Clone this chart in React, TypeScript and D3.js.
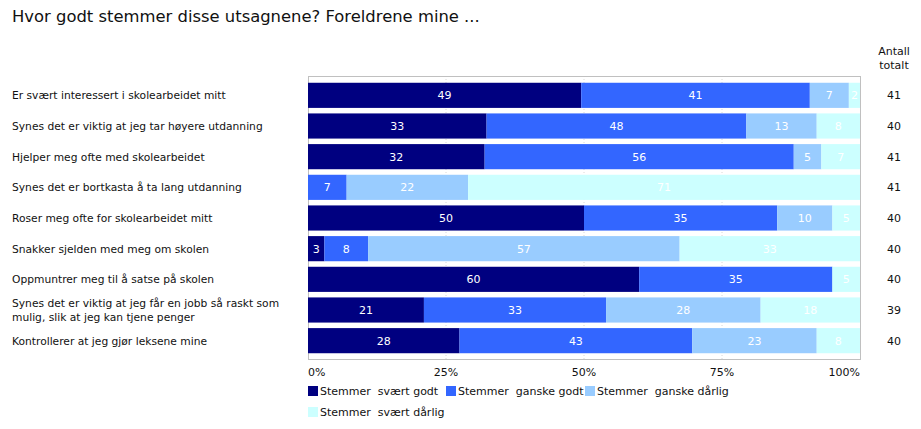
import React from "react";
import * as d3 from "d3";

const categories = [
  "Er svært interessert i skolearbeidet mitt",
  "Synes det er viktig at jeg tar høyere utdanning",
  "Hjelper meg ofte med skolearbeidet",
  "Synes det er bortkasta å ta lang utdanning",
  "Roser meg ofte for skolearbeidet mitt",
  "Snakker sjelden med meg om skolen",
  "Oppmuntrer meg til å satse på skolen",
  "Synes det er viktig at jeg får en jobb så raskt som|mulig, slik at jeg kan tjene penger",
  "Kontrollerer at jeg gjør leksene mine",
];
const svaertGodt = [49, 33, 32, 0, 50, 3, 60, 21, 28];
const ganskeGodt = [41, 48, 56, 7, 35, 8, 35, 33, 43];
const ganskeDarlig = [7, 13, 5, 22, 10, 57, 0, 28, 23];
const svaertDarlig = [2, 8, 7, 71, 5, 33, 5, 18, 8];
const totals = [41, 40, 41, 41, 40, 40, 40, 39, 40];
const seriesNames = [
  "Stemmer  svært godt",
  "Stemmer  ganske godt",
  "Stemmer  ganske dårlig",
  "Stemmer  svært dårlig",
];
const colors = ["#000080", "#3366ff", "#99ccff", "#ccffff"];
const ticks = [0, 25, 50, 75, 100];
const tickLabels = ["0%", "25%", "50%", "75%", "100%"];

const FONT = "DejaVu Sans, Verdana, sans-serif";

export default function App() {
  const W = 921, H = 429;
  const left = 308, right = 860, top = 76, bottom = 359;
  const x = d3.scaleLinear().domain([0, 100]).range([left, right]);
  const y = d3.scaleBand<number>().domain(d3.range(categories.length)).range([80, 356]).paddingInner(0.18).paddingOuter(0.09);
  const series = [svaertGodt, ganskeGodt, ganskeDarlig, svaertDarlig];

  const rows = categories.map((c, i) => {
    const vals = series.map((s) => s[i]);
    const sum = d3.sum(vals);
    let acc = 0;
    const segs = vals.map((v, k) => {
      const x0 = (acc / sum) * 100;
      acc += v;
      const x1 = (acc / sum) * 100;
      return { v, k, x0, x1 };
    });
    return { c, i, segs };
  });

  const legendItems = [
    { x: 308, y: 395 },
    { x: 446, y: 395 },
    { x: 585, y: 395 },
    { x: 308, y: 416 },
  ];

  return (
    <svg width={W} height={H} style={{ position: "absolute", left: 0, top: 0, background: "#fff" }} fontFamily={FONT}>
      <rect x={0} y={0} width={W} height={H} fill="#fff" />
      <text x={12} y={22} fontSize={16.4} fill="#111">Hvor godt stemmer disse utsagnene? Foreldrene mine ...</text>
      <text x={894} y={55} fontSize={11} textAnchor="middle" fill="#111">Antall</text>
      <text x={894} y={69} fontSize={11} textAnchor="middle" fill="#111">totalt</text>
      {ticks.slice(1, 4).map((t) => (
        <line key={t} x1={x(t)} x2={x(t)} y1={top} y2={bottom} stroke="#d8d8d8" strokeWidth={1} strokeDasharray="1,2" />
      ))}
      <rect x={left + 0.5} y={top + 0.5} width={right - left} height={bottom - top} fill="none" stroke="#c0c0c0" />
      {rows.map((r) => {
        const by = y(r.i)!;
        const bh = y.bandwidth();
        const lines = r.c.split("|");
        return (
          <g key={r.i}>
            {r.segs.map((s) =>
              s.v > 0 ? (
                <g key={s.k}>
                  <rect x={x(s.x0)} y={by} width={x(s.x1) - x(s.x0)} height={bh} fill={colors[s.k]} />
                  <text x={(x(s.x0) + x(s.x1)) / 2} y={by + bh / 2 + 4} fontSize={11} fill="#fff" textAnchor="middle">{s.v}</text>
                </g>
              ) : null
            )}
            {lines.map((l, j) => (
              <text key={j} x={12} y={by + bh / 2 + 4 + (j - (lines.length - 1) / 2) * 14} fontSize={10.7} fill="#111">{l}</text>
            ))}
            <text x={894} y={by + bh / 2 + 4} fontSize={11} textAnchor="middle" fill="#111">{totals[r.i]}</text>
          </g>
        );
      })}
      {ticks.map((t, i) => (
        <text key={t} x={x(t)} y={376} fontSize={11} fill="#111" textAnchor={i === 0 ? "start" : i === ticks.length - 1 ? "end" : "middle"}>{tickLabels[i]}</text>
      ))}
      {seriesNames.map((n, i) => (
        <g key={n}>
          <rect x={legendItems[i].x} y={legendItems[i].y - 9} width={10} height={10} fill={colors[i]} />
          <text x={legendItems[i].x + 12} y={legendItems[i].y} fontSize={11} fill="#111" style={{ whiteSpace: "pre" }}>{n}</text>
        </g>
      ))}
    </svg>
  );
}
